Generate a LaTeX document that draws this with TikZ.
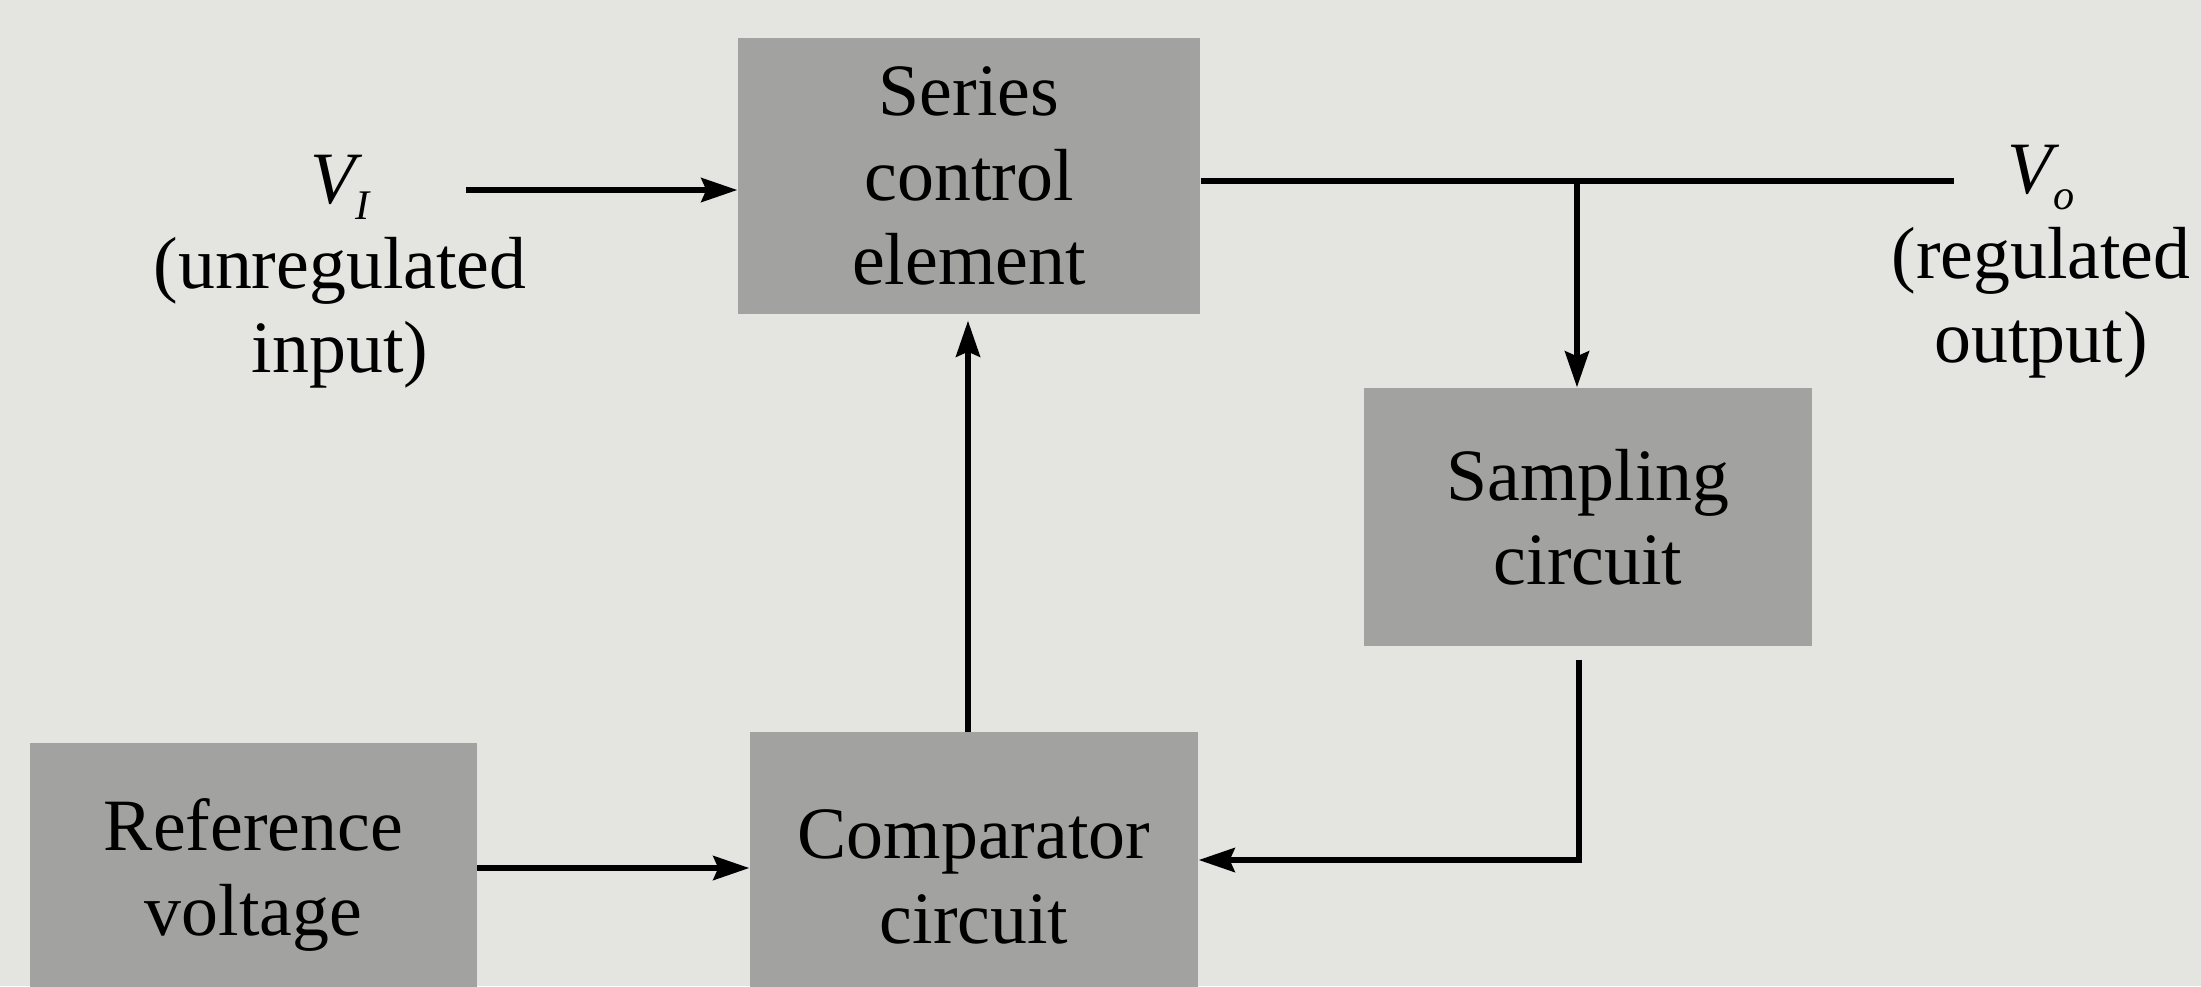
\documentclass[tikz,border=0pt]{standalone}
\usepackage{fontspec}
\setmainfont{Liberation Serif}
\usetikzlibrary{arrows.meta}
\definecolor{bg}{RGB}{228,228,225}
\definecolor{boxfill}{RGB}{162,162,160}
\newcommand{\vsub}[1]{{\itshape V}\raisebox{-0.45ex}{\fontsize{12}{12}\selectfont\itshape #1}}
\begin{document}
\begin{tikzpicture}[
  x=1cm,y=1cm,
  font=\fontsize{21}{24}\selectfont,
  blk/.style={rectangle, fill=boxfill, draw=none, align=center, inner sep=0pt},
  lbl/.style={align=center, inner sep=0pt},
  wire/.style={line width=1.6pt, draw=black},
  arr/.style={wire, -{Stealth[length=0.36cm,width=0.24cm,inset=0.05cm]}}
]
\useasboundingbox (0,0) rectangle (22.01,-9.86);
\fill[bg] (0,0) rectangle (22.01,-9.86);
\clip (0,0) rectangle (22.01,-9.86);

% blocks
\node[blk, minimum width=4.62cm, minimum height=2.76cm] (series) at (9.69,-1.76) {Series\\control\\element};
\node[blk, minimum width=4.48cm, minimum height=2.58cm] (sampling) at (15.88,-5.17) {Sampling\\circuit};
\node[blk, minimum width=4.48cm, minimum height=2.90cm] (comparator) at (9.74,-8.77) {Comparator\\circuit};
\node[blk, minimum width=4.47cm, minimum height=2.64cm] (reference) at (2.535,-8.75) {Reference\\voltage};

% labels
\node[lbl] (vinlbl) at (3.40,-2.72) {\vsub{I}\\(unregulated\\input)};
\node[lbl] (voutlbl) at (20.41,-2.62) {\vsub{o}\\(regulated\\output)};

% coordinates
\coordinate (vin) at (4.66,-1.90);
\coordinate (vout) at (19.54,-1.81);
\coordinate (br) at (15.77,-1.81);
\coordinate (corner) at (15.79,-8.60);
\coordinate (rc) at (4.77,-8.68);
\coordinate (fb) at (9.68,-7.32);

% connectors
\draw[arr] (vin) -- (vin -| series.west);
\draw[wire] (series.east |- vout) -- (vout);
\draw[arr] (br) -- (br |- sampling.north);
\draw[arr] ([yshift=-0.13cm]sampling.south -| corner) -- (corner) -- (corner -| comparator.east);
\draw[arr] (rc) -- (rc -| comparator.west);
\draw[arr] (fb) -- ([yshift=-0.06cm]fb |- series.south);
\end{tikzpicture}
\end{document}
